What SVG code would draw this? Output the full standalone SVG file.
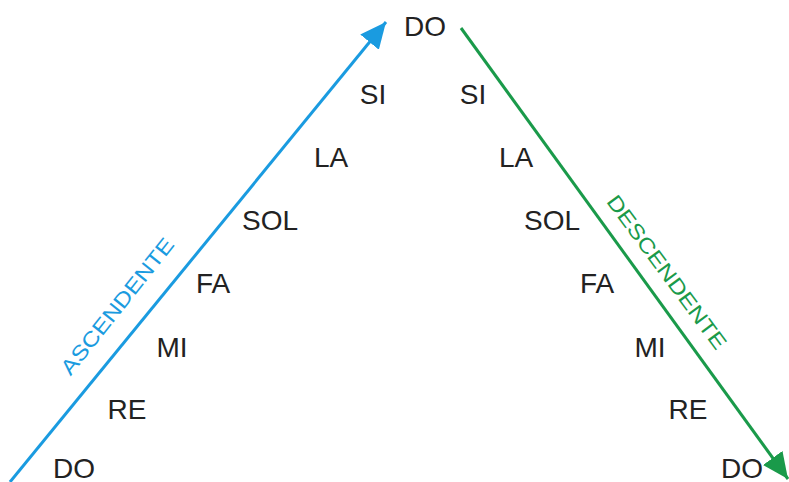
<svg xmlns="http://www.w3.org/2000/svg" width="789" height="482" viewBox="0 0 789 482">
<style>
.n{font-family:"Liberation Sans",Arial,sans-serif;font-size:28px;fill:#222;text-anchor:middle}
.lbl{font-family:"Liberation Sans",Arial,sans-serif;font-size:21px;text-anchor:middle;dominant-baseline:central}
</style>
<defs>
<marker id="ab" markerUnits="userSpaceOnUse" markerWidth="30" markerHeight="26" refX="26" refY="12" orient="auto">
<path d="M0,0 L26,12 L0,24 Z" fill="#1a9be0"/>
</marker>
<marker id="ag" markerUnits="userSpaceOnUse" markerWidth="30" markerHeight="26" refX="26" refY="12" orient="auto">
<path d="M0,0 L26,12 L0,24 Z" fill="#1a9a4a"/>
</marker>
</defs>
<rect width="789" height="482" fill="#fff"/>
<g id="connectors">
<line x1="10" y1="482" x2="386" y2="22" stroke="#1a9be0" stroke-width="3" marker-end="url(#ab)"/>
<line x1="461" y1="28" x2="788" y2="479" stroke="#1a9a4a" stroke-width="3" marker-end="url(#ag)"/>
</g>
<g id="asc-label"><text class="lbl" fill="#1a9be0" textLength="168" lengthAdjust="spacingAndGlyphs" transform="translate(117,306) rotate(-51.5)">ASCENDENTE</text></g>
<g id="desc-label"><text class="lbl" fill="#1a9a4a" textLength="186" lengthAdjust="spacingAndGlyphs" transform="translate(667,272) rotate(53.5)">DESCENDENTE</text></g>
<g id="do-top"><text class="n" x="425" y="36">DO</text></g>
<g id="si-l"><text class="n" x="373" y="104">SI</text></g>
<g id="si-r"><text class="n" x="473" y="104">SI</text></g>
<g id="la-l"><text class="n" x="331" y="167">LA</text></g>
<g id="la-r"><text class="n" x="516" y="167">LA</text></g>
<g id="sol-l"><text class="n" x="270" y="230">SOL</text></g>
<g id="sol-r"><text class="n" x="552" y="230">SOL</text></g>
<g id="fa-l"><text class="n" x="213" y="293">FA</text></g>
<g id="fa-r"><text class="n" x="597" y="293">FA</text></g>
<g id="mi-l"><text class="n" x="172" y="357">MI</text></g>
<g id="mi-r"><text class="n" x="650" y="357">MI</text></g>
<g id="re-l"><text class="n" x="127" y="419">RE</text></g>
<g id="re-r"><text class="n" x="688" y="419">RE</text></g>
<g id="do-l"><text class="n" x="74" y="478">DO</text></g>
<g id="do-r"><text class="n" x="742" y="478">DO</text></g>
</svg>
